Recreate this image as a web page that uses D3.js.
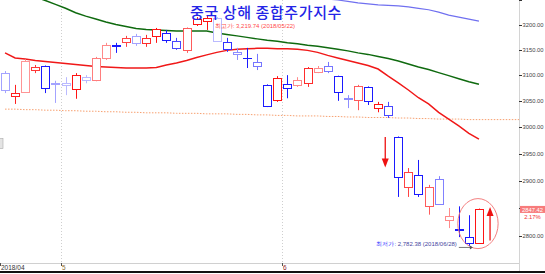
<!DOCTYPE html>
<html><head><meta charset="utf-8">
<script src="https://cdn.jsdelivr.net/npm/d3@7"></script>
<style>html,body{margin:0;padding:0;background:#fff;overflow:hidden}</style>
</head><body><svg id="c" width="545" height="274"></svg>
<script>
// ---------------- data ----------------
const dates = ["2018-04-20","2018-04-23","2018-04-24","2018-04-25","2018-04-26","2018-04-27",
"2018-05-02","2018-05-03","2018-05-04","2018-05-07","2018-05-08","2018-05-09","2018-05-10","2018-05-11",
"2018-05-14","2018-05-15","2018-05-16","2018-05-17","2018-05-18","2018-05-21","2018-05-22","2018-05-23",
"2018-05-24","2018-05-25","2018-05-28","2018-05-29","2018-05-30","2018-05-31",
"2018-06-01","2018-06-04","2018-06-05","2018-06-06","2018-06-07","2018-06-08","2018-06-11","2018-06-12",
"2018-06-13","2018-06-14","2018-06-15","2018-06-19","2018-06-20","2018-06-21","2018-06-22","2018-06-25",
"2018-06-26","2018-06-27","2018-06-28","2018-06-29"];
const openV  = [3104,3059,3067,3110,3118,3084,3085,3073,3096,3091,3133,3160,3166,3178,3164,3178,3184,3168,3150,3202,3208,3214,3166,3146,3134,3126,3080,3052,3083,3081,3085,3106,3118,3098,3056,3052,3077,3036,3040,2981,2888,2910,2854,2903,2829,2813,2798,2788];
const closeV = [3071,3066,3128,3117,3075,3082,3081,3100,3091,3133,3160,3158,3174,3163,3174,3192,3169,3154,3193,3213,3214,3168,3152,3141,3133,3118,3041,3095,3075,3091,3114,3115,3109,3067,3053,3079,3049,3044,3022,2907,2915,2875,2889,2858,2835,2811,2787,2847.42];
const highV  = [3108,3081,3131,3120,3119,3089,3096,3104,3100,3136,3164,3164,3178,3182,3180,3194,3190,3174,3195,3216,3219.74,3216,3174,3154,3154,3142,3082,3098,3100,3096,3116,3118,3126,3099,3061,3081,3078,3048,3048,2982,2923,2938,2892,2908,2850,2853,2837,2849];
const lowV   = [3065,3044,3066,3104,3065,3046,3061,3054,3084,3088,3130,3144,3156,3158,3156,3164,3164,3150,3144,3198,3190,3166,3146,3130,3114,3110,3038,3048,3055,3077,3077,3104,3104,3050,3036,3032,3042,3028,3017,2870,2870,2870,2838,2856,2814,2798,2782.38,2786];
const volume = [40,95,45,85,100,40,30,100,30,55,50,100,80,40,90,100,100,80,70,100,100,30,90,50,100,60,100,100,100,50,90,50,60,100,50,70,100,100,80,100,80,100,70,55,50,100,100,100];
const maShort = [3144,3134,3132,3129,3127,3125,3123,3121,3119,3117,3116,3115,3114,3114,3114,3115,3120,3124,3129,3135,3140,3145,3149,3151,3152,3153,3153,3152,3152,3151,3149,3145,3139,3134,3129,3124,3119,3112,3098,3085,3071,3056,3044,3028,3015,3002,2988,2977];
const maMid = [3280,3271,3264,3257,3250,3242,3234,3225,3218,3212,3206,3201,3197,3193,3191,3190,3189,3188,3188,3188,3188,3184,3181,3178,3175,3172,3169,3167,3164,3162,3159,3157,3154,3151,3148,3144,3141,3137,3133,3128,3122,3116,3111,3105,3099,3093,3087,3082];
const maLong = [null,null,null,null,null,null,null,null,null,null,null,null,null,null,null,null,null,null,null,null,null,null,null,null,null,null,null,null,null,null,null,null,
3253,3251,3248,3245,3243,3241,3240,3239,3237,3234,3231,3226,3220,3216,3212,3208];
const maYear = [3034,3034,3033,3033,3032,3032,3031,3031,3030,3030,3029,3029,3028,3028,3027,3027,3027,3026,3026,3026,3025,3025,3025,3024,3024,3023,3023,3022,3022,3021,3021,3021,3020,3020,3019,3019,3018,3018,3018,3017,3017,3016,3016,3015,3015,3015,3014,3014];
const yTicks = [2800,2850,2900,2950,3000,3050,3100,3150,3200,3250];
const yTickLabels = [2800,2900,2950,3000,3050,3100,3150,3200];
const title = "중국 상해 종합주가지수";
const highText = "최고가: 3,219.74 (2018/05/22)";
const lowLabel = "최저가:";
const lowText = "2,782.38 (2018/06/28)";
const lastClose = "2847.42", lastChange = "2.17%";

// ---------------- layout ----------------
const plotR = 519, plotB = 263;
const FONT = "Liberation Sans, Arial, sans-serif";
const svg = d3.select("#c");
const x = d3.scaleBand().domain(dates).range([0, 484]);
const step = x.step();
const cx = d => x(d) + step / 2;
const y = d3.scaleLog().domain([2752.5, 3251]).range([plotB, 0]);
const shade = d3.scaleLinear().domain([30, 100]).range([0.3, 1]).clamp(true);
const RED = "#ff1414", BLUE = "#1a1aff";

const data = dates.map((d, i) => ({d, o: openV[i], c: closeV[i], h: highV[i], l: lowV[i], v: volume[i]}));

svg.append("defs").append("clipPath").attr("id", "clip")
  .append("rect").attr("x", 0).attr("y", 0).attr("width", plotR).attr("height", plotB);

// month grid lines
const monthStarts = data.filter((p, i) => i > 0 && p.d.slice(5, 7) !== data[i - 1].d.slice(5, 7));
svg.selectAll(".grid").data(monthStarts).join("line")
  .attr("x1", p => Math.round(x(p.d)) + 0.5).attr("x2", p => Math.round(x(p.d)) + 0.5)
  .attr("y1", 0).attr("y2", plotB)
  .attr("stroke", "#cfcfcf").attr("stroke-dasharray", "1,2");

const g = svg.append("g").attr("clip-path", "url(#clip)");

// long dotted line
const yearLine = d3.line().x((v, i) => i < dates.length ? cx(dates[i]) : plotR).y(v => y(v));
g.append("path").datum(maYear.concat([maYear[maYear.length - 1]]))
  .attr("d", yearLine).attr("fill", "none").attr("stroke", "#f7a070")
  .attr("stroke-width", 1).attr("stroke-dasharray", "1.5,1.5");

// moving averages
const maLine = d3.line().defined(v => v != null).x((v, i) => cx(dates[i])).y(v => y(v));
g.append("path").datum(maLong).attr("d", maLine).attr("fill", "none").attr("stroke", "#7070f0").attr("stroke-width", 1.2);
g.append("path").datum(maMid).attr("d", maLine).attr("fill", "none").attr("stroke", "#0f6a0f").attr("stroke-width", 1.5);
g.append("path").datum(maShort).attr("d", maLine).attr("fill", "none").attr("stroke", "#f01818").attr("stroke-width", 1.5);

// candles
const col = p => d3.interpolateRgb("#ffffff", p.c >= p.o ? RED : BLUE)(shade(p.v));
const cg = g.selectAll(".cdl").data(data).join("g");
cg.append("line")
  .attr("x1", p => Math.round(cx(p.d)) + 0.5).attr("x2", p => Math.round(cx(p.d)) + 0.5)
  .attr("y1", p => y(p.h)).attr("y2", p => y(p.l)).attr("stroke", col);
cg.append("rect")
  .attr("x", p => Math.round(cx(p.d)) - 3.5)
  .attr("width", 8)
  .attr("y", p => Math.round(y(Math.max(p.o, p.c))) + 0.5)
  .attr("height", p => Math.max(0.01, Math.round(y(Math.min(p.o, p.c))) - Math.round(y(Math.max(p.o, p.c)))))
  .attr("fill", "#fff").attr("stroke", col);

// annotations: arrows
function arrow(xp, y0, y1, c) {
  const dir = y1 > y0 ? 1 : -1;
  svg.append("line").attr("x1", xp).attr("x2", xp).attr("y1", y0).attr("y2", y1 - dir * 7)
    .attr("stroke", c).attr("stroke-width", 1.3);
  svg.append("path").attr("d", `M${xp - 3.5},${y1 - dir * 9}L${xp + 3.5},${y1 - dir * 9}L${xp},${y1}Z`).attr("fill", c);
}
const iLast = dates.length - 1;
arrow(x(dates[39]) - 8, y(2981), y(2924), "#ee1111");
arrow(cx(dates[iLast]) + step * 1.1, y(2792), y(2852), "#ee1111");

// ellipse around last candles
svg.append("ellipse").attr("cx", cx(dates[iLast]) - 1).attr("cy", y(2822))
  .attr("rx", step * 2).attr("ry", 25)
  .attr("fill", "none").attr("stroke", "#f07070").attr("stroke-width", 0.9);

// low annotation
const lowY = y(lowV[46]);
const lowT = svg.append("text").attr("x", x(dates[46]) - 7).attr("y", lowY)
  .attr("text-anchor", "end").attr("font-family", FONT).attr("font-size", 6);
lowT.append("tspan").attr("fill", "#3b3bff").text(lowLabel + "  ");
lowT.append("tspan").attr("fill", "#4646a0").text(lowText);
svg.append("line").attr("x1", x(dates[46]) - 5).attr("x2", cx(dates[46]) + 3)
  .attr("y1", lowY + 1.5).attr("y2", lowY + 1.5).attr("stroke", "#555").attr("stroke-width", 0.8);
svg.append("path").attr("d", `M${cx(dates[46]) + 4},${lowY + 1.5}l-3,-2l0,4z`).attr("fill", "#555");

// high annotation + title
svg.append("text").attr("x", cx(dates[20]) + 8).attr("y", y(highV[20]) + 13)
  .attr("font-family", FONT).attr("font-size", 6)
  .attr("fill", "#ff4a4a").text(highText);
svg.append("text").attr("x", 266).attr("y", 18).attr("text-anchor", "middle")
  .attr("font-family", "Noto Sans CJK KR, sans-serif").attr("font-size", 15).attr("font-weight", 500)
  .attr("letter-spacing", 0.6)
  .attr("fill", "#2424e6").text(title);

// right axis
svg.append("line").attr("x1", plotR + 0.5).attr("x2", plotR + 0.5).attr("y1", 0).attr("y2", 271)
  .attr("stroke", "#d4d4d4");
const ax = svg.append("g");
ax.selectAll("line").data(yTicks).join("line")
  .attr("x1", plotR).attr("x2", plotR + 3)
  .attr("y1", v => Math.round(y(v)) + 0.5).attr("y2", v => Math.round(y(v)) + 0.5)
  .attr("stroke", "#333");
ax.selectAll("text").data(yTickLabels).join("text")
  .attr("x", plotR + 3.5).attr("y", v => y(v) + 2.2)
  .attr("font-family", FONT).attr("font-size", 5.8)
  .attr("fill", "#444").text(v => d3.format(".2f")(v));

// last price tag
const lcY = y(closeV[iLast]);
svg.append("rect").attr("x", plotR + 1).attr("y", lcY - 3.5).attr("width", 25).attr("height", 7).attr("fill", "#f77b7b");
svg.append("text").attr("x", plotR + 13.5).attr("y", lcY + 2.2).attr("text-anchor", "middle")
  .attr("font-family", FONT).attr("font-size", 5.8).attr("fill", "#fff").text(lastClose);
svg.append("text").attr("x", plotR + 13.5).attr("y", lcY + 9.5).attr("text-anchor", "middle")
  .attr("font-family", FONT).attr("font-size", 5.8).attr("fill", "#f03030").text(lastChange);

// bottom axis
svg.append("line").attr("x1", 0).attr("x2", plotR).attr("y1", plotB + 0.5).attr("y2", plotB + 0.5).attr("stroke", "#d0d0d0");
svg.append("rect").attr("x", 0).attr("y", 271).attr("width", 545).attr("height", 2).attr("fill", "#111");
const xLabels = [{d: dates[0], t: dates[0].slice(0, 7).replace("-", "/"), c: "#333"}]
  .concat(monthStarts.map((p, k) => ({d: p.d, t: String(+p.d.slice(5, 7)), c: k === 0 ? "#8a6a30" : "#902020"})));
svg.selectAll(".xt").data(xLabels).join("line")
  .attr("x1", p => Math.round(x(p.d)) + 0.5).attr("x2", p => Math.round(x(p.d)) + 0.5)
  .attr("y1", plotB).attr("y2", plotB + 3).attr("stroke", "#555");
svg.selectAll(".xl").data(xLabels).join("text")
  .attr("x", p => Math.round(x(p.d)) + 1).attr("y", 270)
  .attr("font-family", FONT).attr("font-size", 6.5)
  .attr("fill", p => p.c).text(p => p.t);

// small scroll widget at left edge
svg.append("rect").attr("x", -1).attr("y", 138.5).attr("width", 4).attr("height", 10)
  .attr("fill", "#e4e4e4").attr("stroke", "#aaa").attr("stroke-width", 0.6);
</script></body></html>
